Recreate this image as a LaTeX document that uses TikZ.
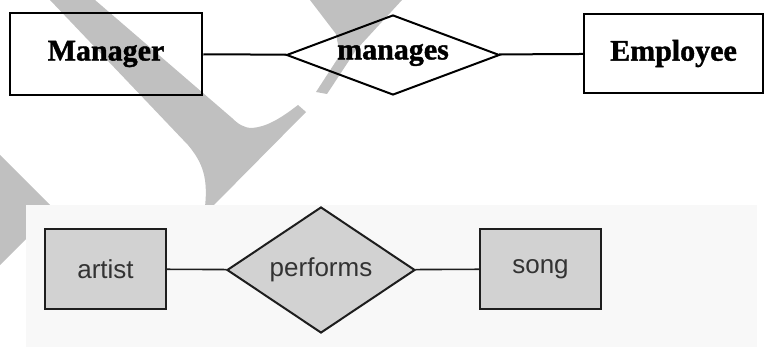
\documentclass[tikz,border=0pt]{standalone}
\usepackage{fontspec}
\setmainfont{Liberation Serif}
\setsansfont{Liberation Sans}
\newfontfamily\heavyserif[BoldFeatures={FakeBold=1.3}]{Liberation Serif}
\usetikzlibrary{shapes.geometric}
\definecolor{wmark}{HTML}{C0C0C0}
\definecolor{panel}{HTML}{F8F8F8}
\definecolor{boxfill}{HTML}{D2D2D2}
\definecolor{edge}{HTML}{1E1E1E}
\definecolor{label}{HTML}{333333}

\begin{document}
\begin{tikzpicture}[x=1pt,y=-1pt,
  ent/.style={draw=black,line width=2.5pt,inner sep=0pt,
    font=\heavyserif\fontsize{30}{36}\selectfont\bfseries},
  rel/.style={ent,shape=diamond,line width=2pt},
  conn/.style={draw=black,line width=2pt},
  gent/.style={draw=edge,fill=boxfill,line width=2pt,inner sep=0pt,text=label,
    minimum width=121pt,minimum height=80pt,font=\sffamily\fontsize{26}{31}\selectfont},
  grel/.style={gent,shape=diamond},
  gconn/.style={draw=edge,line width=1.6pt}]
\path[use as bounding box] (0,0) rectangle (765,347);
\fill[white] (0,0) rectangle (765,347);
% faint watermark strokes behind the top diagram
\fill[wmark] (50,0) -- (188,145) .. controls (203,163) and (208,178) .. (205,207)
  -- (212,207) -- (306,112) -- (298,105) .. controls (280,119) and (266,127) .. (252,128)
  .. controls (244,128) and (238,124) .. (232,118) -- (95,0) -- cycle;
\fill[wmark] (310,0) -- (336,34) -- (340,55) -- (316,92) -- (327,94) -- (356,50) -- (402,0) -- cycle;
\fill[wmark] (0,155) -- (55,210) -- (0,265) -- cycle;

% Manager manages Employee
\node[ent,minimum width=192pt,minimum height=82pt] (mgr) at (106,54) {Manager};
\node[rel,aspect=2.66,minimum width=213pt,minimum height=80pt] (manages) at (393,55) {manages};
\node[ent,minimum width=179pt,minimum height=79pt] (emp) at (673.5,53.5) {Employee};
\draw[conn] (mgr) -- (manages);
\draw[conn] (manages) -- (emp);

% artist performs song, on a pale panel
\fill[panel] (26,205) rectangle (757,347);
\node[gent] (artist) at (105.5,269) {artist};
\node[grel,aspect=1.5,minimum width=188pt,minimum height=126pt] (performs) at (321,270) {performs};
\node[gent] (song) at (540.5,269) {song};
\draw[gconn] (artist) -- (performs);
\draw[gconn] (performs) -- (song);
\end{tikzpicture}
\end{document}
